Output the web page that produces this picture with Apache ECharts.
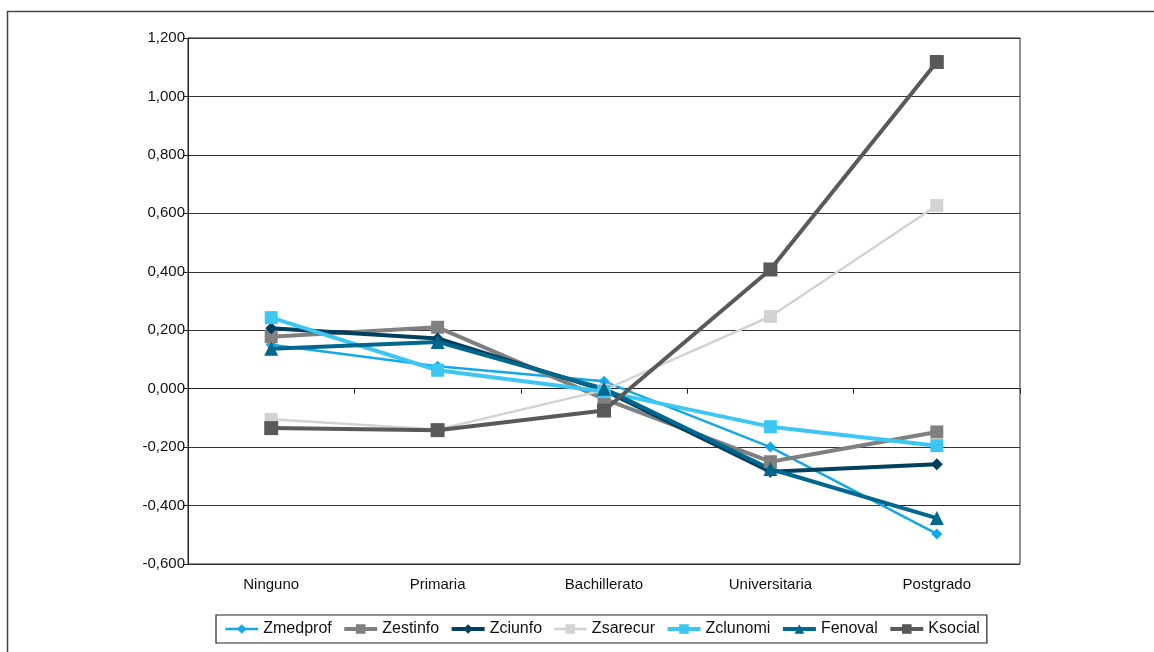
<!DOCTYPE html>
<html><head><meta charset="utf-8">
<script src="https://cdn.jsdelivr.net/npm/echarts@6/dist/echarts.min.js"></script>
<style>html,body{margin:0;padding:0;background:#fff}#c{width:1154px;height:652px}</style>
</head><body><div id="c"></div>
<script>
const categories = ['Ninguno','Primaria','Bachillerato','Universitaria','Postgrado'];
const Zmedprof = [0.150, 0.077, 0.025, -0.200, -0.497];
const Zestinfo = [0.178, 0.210, -0.035, -0.250, -0.148];
const Zciunfo  = [0.207, 0.172, -0.005, -0.284, -0.259];
const Zsarecur = [-0.105, -0.140, -0.005, 0.247, 0.627];
const Zclunomi = [0.243, 0.063, -0.010, -0.130, -0.195];
const Fenoval  = [0.137, 0.160, 0.000, -0.275, -0.443];
const Ksocial  = [-0.135, -0.142, -0.075, 0.408, 1.118];
const yTicks = {min: -0.6, max: 1.2, interval: 0.2};

const font = 'Liberation Sans, Arial, sans-serif';
function mk(name, data, color, symbol, size, width) {
  return {name, type:'line', data, xAxisIndex:0, symbol, symbolSize:size,
    lineStyle:{color, width}, itemStyle:{color}, emphasis:{disabled:true}, z:2};
}
const series = [
  mk('Zmedprof', Zmedprof, '#14a8e6', 'diamond', 11, 2.5),
  mk('Zestinfo', Zestinfo, '#808080', 'rect', 13, 4),
  mk('Zciunfo', Zciunfo, '#003f5e', 'diamond', 12, 4),
  mk('Zsarecur', Zsarecur, '#d3d3d3', 'rect', 13, 2.5),
  mk('Zclunomi', Zclunomi, '#3ec6f2', 'rect', 13, 4),
  mk('Fenoval', Fenoval, '#00688f', 'triangle', 14, 4),
  mk('Ksocial', Ksocial, '#595959', 'rect', 14, 4)
];
const chart = echarts.init(document.getElementById('c'));
chart.setOption({
  animation:false,
  graphic:[{type:'rect', shape:{x:7.5,y:11.5,width:1300,height:800}, style:{fill:'none', stroke:'#444', lineWidth:1.5}, silent:true}],
  grid:{left:188, top:38, right:134, bottom:88, show:true, borderColor:'#222', borderWidth:1},
  legend:{left:216, top:615, padding:[6,7,6,8], borderColor:'#222', borderWidth:1.2,
    itemWidth:33, itemHeight:12, itemGap:10.5,
    textStyle:{fontFamily:font, fontSize:16, color:'#111'},
    data:series.map(s=>({name:s.name, lineStyle:{width:s.lineStyle.width}}))},
  xAxis:[
    {type:'category', data:categories, boundaryGap:true,
     axisLine:{onZero:true, lineStyle:{color:'#222', width:1}},
     axisTick:{show:true, length:5, inside:false, lineStyle:{color:'#222'}},
     axisLabel:{show:false}, splitLine:{show:false}},
    {type:'category', data:categories, position:'bottom', boundaryGap:true,
     axisLine:{show:false}, axisTick:{show:false},
     axisLabel:{show:true, margin:13, fontFamily:font, fontSize:15, color:'#111'}}
  ],
  yAxis:{type:'value', min:yTicks.min, max:yTicks.max, interval:yTicks.interval,
    axisLine:{show:true, lineStyle:{color:'#222'}},
    axisTick:{show:true, length:5, lineStyle:{color:'#222'}},
    splitLine:{show:true, lineStyle:{color:'#333', width:1}},
    axisLabel:{margin:3, fontFamily:font, fontSize:15, color:'#111',
      formatter:v=>v.toFixed(3).replace('.',',')}},
  series
});
</script></body></html>
